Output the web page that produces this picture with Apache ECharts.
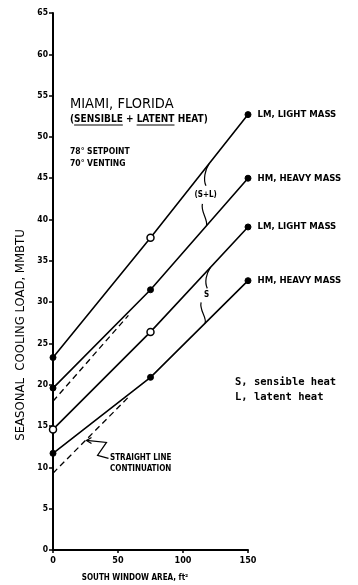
<!DOCTYPE html>
<html><head><meta charset="utf-8">
<script src="https://cdn.jsdelivr.net/npm/echarts@6/dist/echarts.min.js"></script>
<style>html,body{margin:0;padding:0;background:#fff}#c{width:358px;height:585px}</style>
</head><body><div id="c"></div>
<script>
// ---- data ----
const windowArea = [0, 75, 150];
const lmTotal = [23.3, 37.8, 52.7];     // LM, light mass, sensible + latent
const hmTotal = [19.6, 31.5, 45.0];     // HM, heavy mass, sensible + latent
const lmSensible = [14.6, 26.4, 39.1];  // LM, light mass, sensible
const hmSensible = [11.7, 20.9, 32.6];  // HM, heavy mass, sensible
const hmTotalExtX = [0, 58];
const hmTotalExtY = [18.0, 28.4];
const hmSensibleExtX = [0, 58];
const hmSensibleExtY = [9.3, 18.5];
const endLabels = ['LM, LIGHT MASS', 'HM, HEAVY MASS', 'LM, LIGHT MASS', 'HM, HEAVY MASS'];
const yTicks = [0,5,10,15,20,25,30,35,40,45,50,55,60,65];
const xTicks = [0,50,100,150];
// marker kinds per point: 'open' or 'fill'
const lmTotalMarks = ['fill','open','fill'];
const hmTotalMarks = ['fill','fill','fill'];
const lmSensibleMarks = ['open','open','fill'];
const hmSensibleMarks = ['fill','fill','fill'];

const FONT = '"DejaVu Sans Condensed","DejaVu Sans",sans-serif';
const MONO = '"DejaVu Sans Mono",monospace';
const chart = echarts.init(document.getElementById('c'), null, {renderer:'canvas'});

function pts(xs, ys, marks, label){
  return xs.map((x,i)=>{
    const o = {value:[x, ys[i]]};
    if (marks){
      const open = marks[i]==='open';
      o.symbolSize = open ? 7 : 6;
      o.itemStyle = {color: open ? '#fff' : '#000', borderColor:'#000', borderWidth: open?1.5:1};
    }
    if (label && i===xs.length-1){
      o.label = {show:true, position:'right', distance:6, formatter:label,
        color:'#000', fontFamily:FONT, fontWeight:'bold', fontSize:9.5};
    }
    return o;
  });
}
function lineSeries(xs, ys, marks, label, dashed){
  return {type:'line', data:pts(xs, ys, marks, label), symbol:'circle',
    showSymbol: !dashed, symbolSize:0, silent:true, animation:false,
    lineStyle:{color:'#000', width: dashed?1.3:1.6, type: dashed?[6,4]:'solid'},
    itemStyle:{color:'#000'}, z: dashed?1:2};
}

chart.setOption({
  animation:false,
  grid:{left:53, top:13, width:195, height:537, containLabel:false},
  xAxis:{type:'value', min:0, max:150, interval:50,
    axisLine:{lineStyle:{color:'#000', width:2}},
    axisTick:{show:true, length:3, lineStyle:{color:'#000', width:1.5}},
    splitLine:{show:false},
    axisLabel:{color:'#000', fontFamily:FONT, fontWeight:'bold', fontSize:9, margin:6,
      formatter:v=> xTicks.includes(v)? String(v):''}},
  yAxis:{type:'value', min:0, max:65, interval:5,
    axisLine:{show:true, lineStyle:{color:'#000', width:2}},
    axisTick:{show:true, length:4, lineStyle:{color:'#000', width:1.5}},
    splitLine:{show:false},
    axisLabel:{color:'#000', fontFamily:FONT, fontWeight:'bold', fontSize:8.5, margin:5,
      formatter:v=> yTicks.includes(v)? String(v):''}},
  series:[
    lineSeries(windowArea, lmTotal, lmTotalMarks, endLabels[0], false),
    lineSeries(windowArea, hmTotal, hmTotalMarks, endLabels[1], false),
    lineSeries(windowArea, lmSensible, lmSensibleMarks, endLabels[2], false),
    lineSeries(windowArea, hmSensible, hmSensibleMarks, endLabels[3], false),
    lineSeries(hmTotalExtX, hmTotalExtY, null, null, true),
    lineSeries(hmSensibleExtX, hmSensibleExtY, null, null, true)
  ]
});

// annotations anchored through the chart's own scales
const P = (x,y)=>chart.convertToPixel({gridIndex:0},[x,y]);
function onLine(ys, x){ // value on a 3-point line at x
  if (x<=75) return ys[0]+(ys[1]-ys[0])*x/75;
  return ys[1]+(ys[2]-ys[1])*(x-75)/75;
}
const b1t = P(120, onLine(lmTotal,120)), b1b = P(118, onLine(hmTotal,118));
const b2t = P(121, onLine(lmSensible,121)), b2b = P(117, onLine(hmSensible,117));
const arr = P(25, hmSensibleExtY[0]+(hmSensibleExtY[1]-hmSensibleExtY[0])*25/58);

function txt(x,y,t,size,weight,family,align){
  return {type:'text', x, y, silent:true,
    style:{text:t, fill:'#000', font:`${weight} ${size}px ${family||FONT}`, textAlign:align||'left', textVerticalAlign:'middle'}};
}
const stroke = {stroke:'#000', lineWidth:1.2, fill:null};

function braceParts(t,b,gapTop,gapBot){
  const midY=(t[1]+b[1])/2;
  return [
    {type:'bezierCurve', silent:true, shape:{x1:t[0],y1:t[1], cpx1:t[0]-4,cpy1:t[1]+6, x2:t[0]-3,y2:midY-gapTop, cpx2:t[0]-6,cpy2:midY-gapTop-6}, style:stroke},
    {type:'bezierCurve', silent:true, shape:{x1:b[0]-4,y1:midY+gapBot, cpx1:b[0]-6,cpy1:midY+gapBot+8, x2:b[0],y2:b[1], cpx2:b[0]+2,cpy2:b[1]-6}, style:stroke}
  ];
}

// measure subtitle pieces so the underlines sit under SENSIBLE and LATENT
const SUB = 'bold 10px ' + FONT;
const mctx = document.createElement('canvas').getContext('2d');
mctx.font = SUB;
const W = s => mctx.measureText(s).width;
const subX = 70;
const u1a = subX + W('('), u1b = subX + W('(SENSIBLE');
const u2a = subX + W('(SENSIBLE + '), u2b = subX + W('(SENSIBLE + LATENT');

chart.setOption({graphic:[
  txt(70,104,'MIAMI, FLORIDA',14.5,'normal'),
  txt(subX,119,'(SENSIBLE + LATENT HEAT)',10,'bold'),
  {type:'line', silent:true, shape:{x1:u1a,y1:125,x2:u1b,y2:125}, style:{stroke:'#000',lineWidth:1}},
  {type:'line', silent:true, shape:{x1:u2a,y1:125,x2:u2b,y2:125}, style:{stroke:'#000',lineWidth:1}},
  txt(70,152,'78° SETPOINT',8.5,'bold'),
  txt(70,164,'70° VENTING',8.5,'bold'),
  txt(235,382,'S, sensible heat',10.5,'bold',MONO),
  txt(235,397,'L, latent heat',10.5,'bold',MONO),
  txt(110,458,'STRAIGHT LINE',8,'bold'),
  txt(110,469,'CONTINUATION',8,'bold'),
  {type:'polyline', silent:true, shape:{points:[[arr[0]+1,arr[1]],[arr[0]+21,arr[1]+2],[arr[0]+12,arr[1]+15],[arr[0]+23,arr[1]+18]]}, style:stroke},
  {type:'polyline', silent:true, shape:{points:[[arr[0]+6,arr[1]-3],[arr[0]+1,arr[1]],[arr[0]+6,arr[1]+3]]}, style:stroke},
  ...braceParts(b1t,b1b,9,9),
  txt((b1t[0]+b1b[0])/2-2,(b1t[1]+b1b[1])/2,'(S+L)',8,'bold',FONT,'center'),
  ...braceParts(b2t,b2b,7,7),
  txt((b2t[0]+b2b[0])/2-1,(b2t[1]+b2b[1])/2,'S',8,'bold',FONT,'center'),
  {type:'text', silent:true, x:21, y:335, rotation:Math.PI/2,
    style:{text:'SEASONAL  COOLING LOAD, MMBTU', fill:'#000', font:`normal 13px ${FONT}`, textAlign:'center', textVerticalAlign:'middle'}},
  txt(135,578,'SOUTH WINDOW AREA, ft²',8,'bold',FONT,'center')
]});
</script></body></html>
